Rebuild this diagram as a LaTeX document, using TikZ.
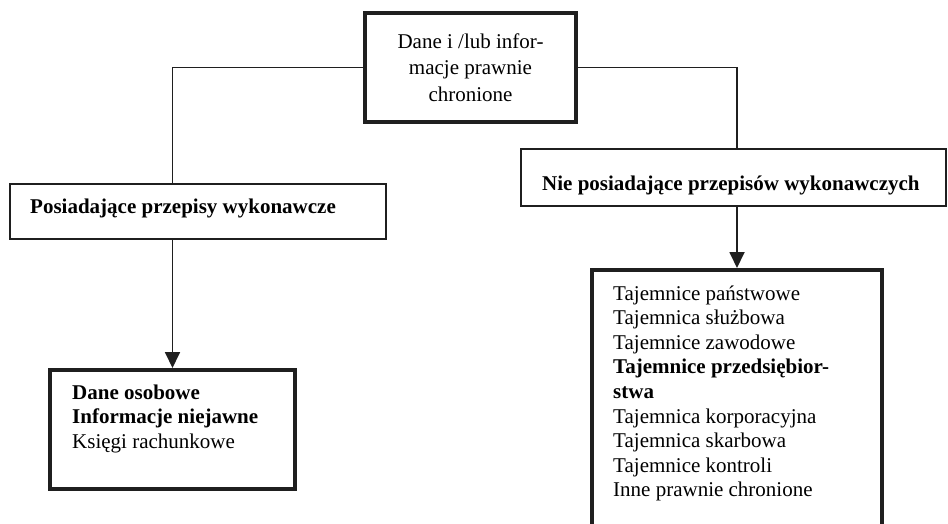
\documentclass[tikz,border=0pt]{standalone}
\usepackage{fontspec}
\setmainfont{Liberation Serif}
\usetikzlibrary{arrows.meta}
\begin{document}
\begin{tikzpicture}[x=1pt,y=-1pt,
  thickbox/.style={draw=black!88, line width=4pt, rectangle, inner sep=0pt},
  thinbox/.style={draw=black!88, line width=2pt, rectangle, inner sep=0pt},
  link/.style={draw=black!88, line width=1.8pt},
  arrowlink/.style={link, -{Triangle[length=16pt,width=15pt]}},
  label/.style={inner sep=0pt, font=\fontsize{21}{24.6}\selectfont}
]
\useasboundingbox (0,0) rectangle (948,523);
\clip (0,0) rectangle (948,523);

% boxes
\node[thickbox, minimum width=211pt, minimum height=109pt, align=center,
      font=\fontsize{21}{26.5}\selectfont] (top) at (470.5,67.5)
  {Dane i /lub infor-\\macje prawnie\\chronione};
\node[thinbox, minimum width=376pt, minimum height=55pt] (lmid) at (198,211.5) {};
\node[thinbox, minimum width=425pt, minimum height=57pt] (rmid) at (733.5,177.5) {};
\node[thickbox, minimum width=245pt, minimum height=119pt] (lb) at (172.5,429.5) {};
\node[thickbox, minimum width=290pt, minimum height=288pt] (rb) at (737,414) {};

% texts
\node[label, anchor=base west] (lmidt) at (30,213) {\textbf{Posiadające przepisy wykonawcze}};
\node[label, anchor=base west] (rmidt) at (542,190) {\textbf{Nie posiadające przepisów wykonawczych}};
\node[label, anchor=base west] (lbt) at (72,399)
  {\begin{tabular}[t]{@{}l@{}}\textbf{Dane osobowe}\\\textbf{Informacje niejawne}\\Księgi rachunkowe\end{tabular}};
\node[label, anchor=base west] (rbt) at (613,300)
  {\begin{tabular}[t]{@{}l@{}}Tajemnice państwowe\\Tajemnica służbowa\\Tajemnice zawodowe\\
   \textbf{Tajemnice przedsiębior-}\\\textbf{stwa}\\Tajemnica korporacyjna\\Tajemnica skarbowa\\
   Tajemnice kontroli\\Inne prawnie chronione\end{tabular}};

% connectors
\draw[link] (top.west) -| (lb.north |- lmid.north);
\draw[link] (top.east) -| (rb.north |- rmid.north);
\draw[arrowlink] (lb.north |- lmid.south) -- (lb.north);
\draw[arrowlink] (rb.north |- rmid.south) -- (rb.north);
\end{tikzpicture}
\end{document}
